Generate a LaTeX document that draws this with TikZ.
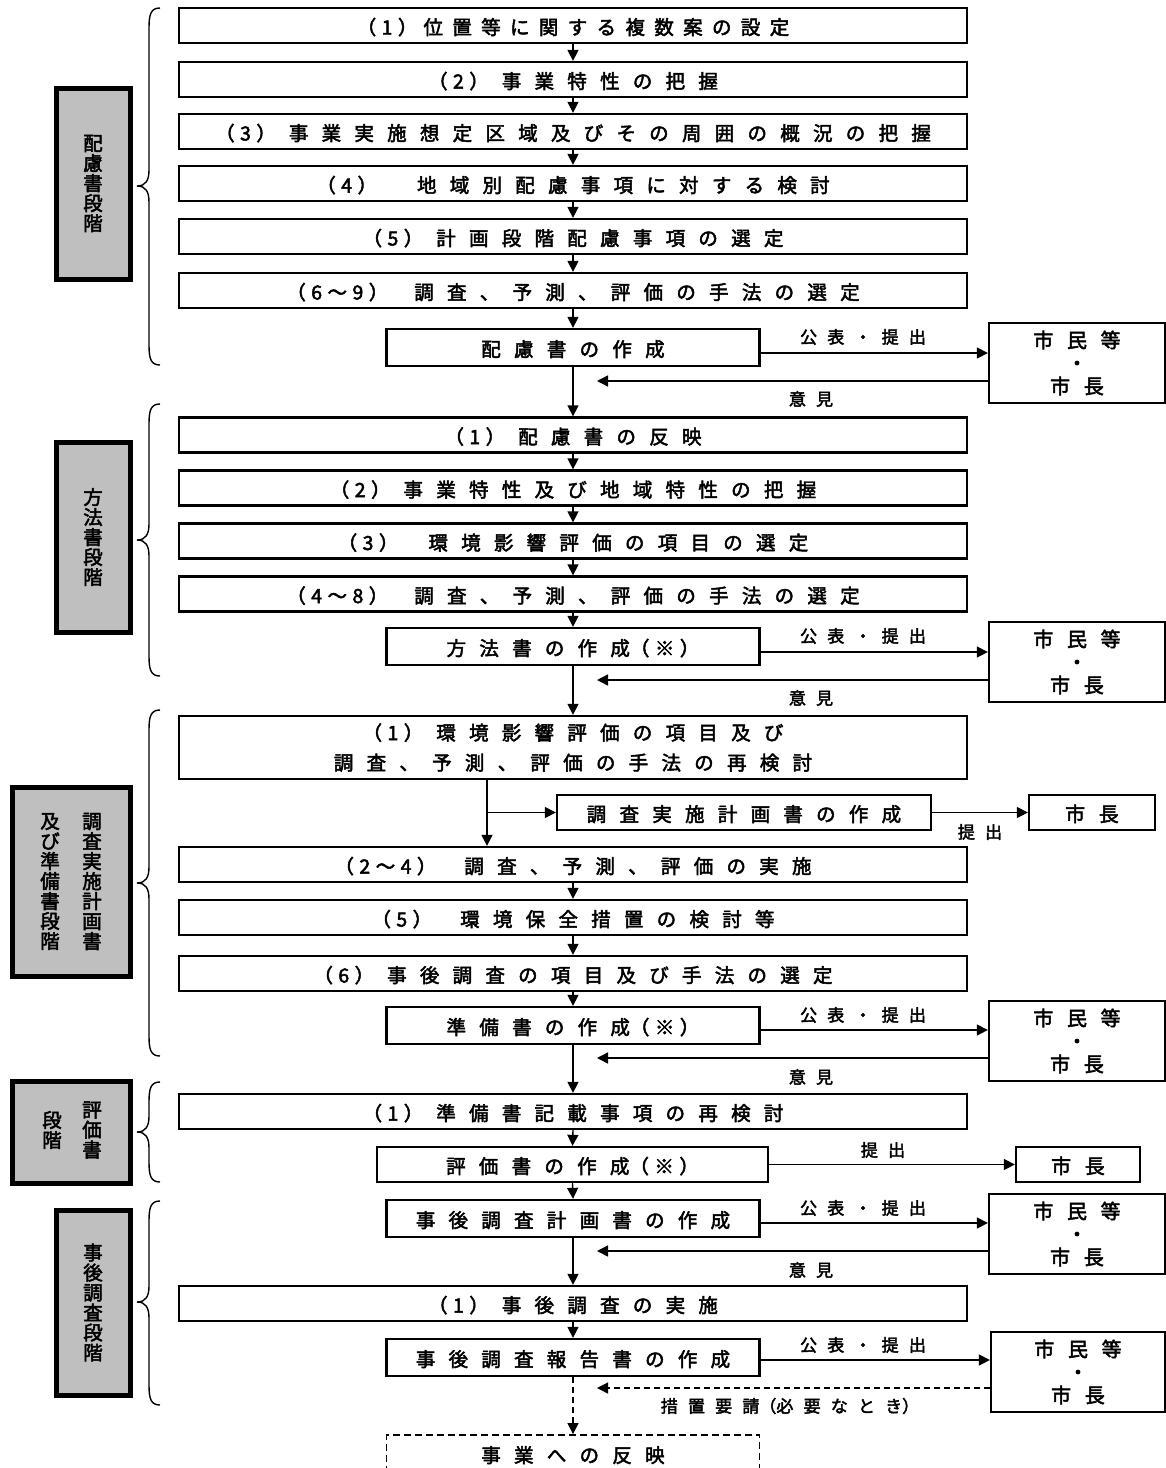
\documentclass[tikz,border=0pt]{standalone}
\usepackage{fontspec}
\setmainfont{Noto Sans CJK JP}
\newfontfamily\jp[FakeBold=2.5]{Noto Sans CJK JP}
\newfontfamily\jpW[LetterSpace=68,FakeBold=2.5]{Noto Sans CJK JP}
\newfontfamily\jpN[LetterSpace=48,FakeBold=2.5]{Noto Sans CJK JP}
\newfontfamily\jpS[LetterSpace=60,FakeBold=2.5]{Noto Sans CJK JP}
\newfontfamily\jpP[LetterSpace=28,FakeBold=2.5]{Noto Sans CJK JP}
\usetikzlibrary{arrows.meta}
\definecolor{stagegray}{RGB}{191,191,191}
\newcommand\fmain{\fontsize{19.5}{30}\selectfont\jpW}
\newcommand\fnarrow{\fontsize{19.5}{30}\selectfont\jpN}
\newcommand\fpre{\fontsize{19.5}{30}\selectfont\jpP}
\newcommand\fcity{\fontsize{20}{23}\selectfont\jpW}
\newcommand\flab{\fontsize{17}{20}\selectfont\jpS}
\newcommand\flabp{\fontsize{17}{20}\selectfont\jpP}
\newcommand\fstage{\fontsize{19.5}{20}\selectfont\jp}
\newcommand\pre[2][13pt]{{\fpre#2}\hspace{#1}}
\newcommand\note{{\fpre（※）}}
\newcommand{\stagebrace}[3]{%
  \draw[bracestyle] (160,#1) .. controls (151,#1) and (149,#1+6) .. (149,#1+20)
    -- (149,#2-16) .. controls (149,#2-6) and (146,#2) .. (137,#2)
    .. controls (146,#2) and (149,#2+6) .. (149,#2+16)
    -- (149,#3-20) .. controls (149,#3-6) and (151,#3) .. (160,#3);}
\begin{document}
\begin{tikzpicture}[x=1pt,y=-1pt,
  boxbase/.style={draw, line width=2.3pt, inner sep=0pt, font=\fmain, align=center},
  oneline/.style={text height=20pt, text depth=2pt},
  mainbox/.style={boxbase, oneline, minimum width=788pt, minimum height=35pt},
  twobox/.style={boxbase, minimum width=788pt, minimum height=63pt},
  docbox/.style={boxbase, oneline, minimum width=373pt, minimum height=37pt},
  citybox/.style={draw, line width=2.3pt, minimum width=176pt, minimum height=80pt, inner sep=0pt, font=\fcity, align=center},
  mayorbox/.style={boxbase, oneline, minimum width=126pt, minimum height=35pt, font=\fcity},
  stagebox/.style={draw, line width=5pt, fill=stagegray, inner sep=0pt},
  stagetext/.style={inner sep=0pt, font=\fstage, align=center},
  lbl/.style={inner sep=0pt, font=\flab},
  arr/.style={line width=1.4pt, -{Triangle[length=11pt,width=11pt]}},
  bracestyle/.style={line width=1.4pt}
]
\useasboundingbox (0,0) rectangle (1166,1468);

% ---------- Section 1 ----------
\node[mainbox, font=\fnarrow] (b1) at (573,25.5) {\pre[6pt]{（1）}位置等に関する複数案の設定};
\node[mainbox] (b2) at (573,79.5) {\pre{（2）}事業特性の把握};
\node[mainbox] (b3) at (573,131.5) {\pre{（3）}事業実施想定区域及びその周囲の概況の把握};
\node[mainbox] (b4) at (573,183.5) {\pre[40pt]{（4）}地域別配慮事項に対する検討};
\node[mainbox] (b5) at (573,236.5) {\pre{（5）}計画段階配慮事項の選定};
\node[mainbox] (b6) at (573,290.5) {\pre[26pt]{（6～9）}調査、予測、評価の手法の選定};
\node[docbox] (d1) at (573,347.5) {配慮書の作成};
\node[citybox] (r1) at (1077,363) {市民等\\・\\市長};
\node[lbl] (l1a) at (863,337) {公表・提出};
\node[lbl] (l1b) at (811,399) {意見};
\coordinate (o1) at (597,381);

% ---------- Section 2 ----------
\node[mainbox] (c1) at (573,435) {\pre{（1）}配慮書の反映};
\node[mainbox] (c2) at (573,488) {\pre{（2）}事業特性及び地域特性の把握};
\node[mainbox] (c3) at (573,541) {\pre[30pt]{（3）}環境影響評価の項目の選定};
\node[mainbox] (c4) at (573,594) {\pre[26pt]{（4～8）}調査、予測、評価の手法の選定};
\node[docbox] (m1) at (573,646.5) {方法書の作成\note};
\node[citybox] (r2) at (1077,662) {市民等\\・\\市長};
\node[lbl] (l2a) at (863,636) {公表・提出};
\node[lbl] (l2b) at (811,698) {意見};
\coordinate (o2) at (597,680);

% ---------- Section 3 ----------
\node[twobox] (e1) at (573,747.5) {\pre{（1）}環境影響評価の項目及び\\調査、予測、評価の手法の再検討};
\coordinate (br) at (487,812.5);
\node[docbox, minimum width=374pt, minimum height=35pt] (k1) at (744,812.5) {調査実施計画書の作成};
\node[mayorbox] (k2) at (1092,812.5) {市長};
\node[lbl] (l3k) at (980,832) {提出};
\node[mainbox] (e2) at (573,864.5) {\pre[28pt]{（2～4）}調査、予測、評価の実施};
\node[mainbox] (e3) at (573,917.5) {\pre[28pt]{（5）}環境保全措置の検討等};
\node[mainbox] (e4) at (573,973.5) {\pre{（6）}事後調査の項目及び手法の選定};
\node[docbox] (p1) at (573,1025.5) {準備書の作成\note};
\node[citybox] (r3) at (1077,1041) {市民等\\・\\市長};
\node[lbl] (l3a) at (863,1015) {公表・提出};
\node[lbl] (l3b) at (811,1077) {意見};
\coordinate (o3) at (597,1058);

% ---------- Section 4 ----------
\node[mainbox] (f1) at (573,1111.5) {\pre{（1）}準備書記載事項の再検討};
\node[docbox, minimum width=391pt, minimum height=35pt] (h1) at (572.5,1164.5) {評価書の作成\note};
\node[mayorbox, minimum width=124pt] (h2) at (1078,1164.5) {市長};
\node[lbl] (l4) at (883,1150) {提出};

% ---------- Section 5 ----------
\node[docbox] (g1) at (573,1218.5) {事後調査計画書の作成};
\node[citybox] (r4) at (1077,1234) {市民等\\・\\市長};
\node[lbl] (l5a) at (863,1208) {公表・提出};
\node[lbl] (l5b) at (811,1270) {意見};
\coordinate (o4) at (597,1251);
\node[mainbox] (g2) at (573,1303.5) {\pre{（1）}事後調査の実施};
\node[docbox] (g3) at (573,1357.5) {事後調査報告書の作成};
\node[citybox, minimum width=174pt] (r5) at (1078,1372) {市民等\\・\\市長};
\node[lbl] (l6a) at (863,1345) {公表・提出};
\node[lbl] (l6b) at (790,1406) {措置要請{\flabp（}必要なとき{\flabp）}};
\coordinate (o5) at (597,1388);
\begin{scope}
\clip (0,0) rectangle (1166,1468);
\node[docbox, dashed, line width=1.9pt, dash pattern=on 7pt off 4pt] (g4) at (573,1453.5) {事業への反映};
\end{scope}

% ---------- vertical flow ----------
\foreach \a/\b in {b1/b2,b2/b3,b3/b4,b4/b5,b5/b6,b6/d1,d1/c1,c1/c2,c2/c3,c3/c4,c4/m1,m1/e1,e2/e3,e3/e4,e4/p1,p1/f1,f1/h1,h1/g1,g1/g2,g2/g3}
  \draw[arr] (\a.south) -- (\b.north);
\draw[arr, dashed, dash pattern=on 6pt off 4pt] (g3.south) -- (g4.north);
\draw[arr] (e1.south -| br) -- (e2.north -| br);
\draw[arr] (br) -- (k1.west);
\draw[arr] (k1.east) -- (k2.west);
\draw[arr] (h1.east) -- (h2.west);

% ---------- publication / opinion ----------
\draw[arr] (d1.east |- 0,353) -- (r1.west |- 0,353);
\draw[arr] (r1.west |- o1) -- (o1);
\draw[arr] (m1.east |- 0,652) -- (r2.west |- 0,652);
\draw[arr] (r2.west |- o2) -- (o2);
\draw[arr] (p1.east |- 0,1030) -- (r3.west |- 0,1030);
\draw[arr] (r3.west |- o3) -- (o3);
\draw[arr] (g1.east |- 0,1223) -- (r4.west |- 0,1223);
\draw[arr] (r4.west |- o4) -- (o4);
\draw[arr] (g3.east |- 0,1360) -- (r5.west |- 0,1360);
\draw[arr, dashed, dash pattern=on 6pt off 4pt] (r5.west |- o5) -- (o5);

% ---------- stage labels ----------
\node[stagebox, minimum width=74pt, minimum height=191pt] (s1) at (93,183.5) {};
\node[stagetext] (s1t) at (s1) {配\\慮\\書\\段\\階};
\node[stagebox, minimum width=74pt, minimum height=190pt] (s2) at (93,537) {};
\node[stagetext] (s2t) at (s2) {方\\法\\書\\段\\階};
\node[stagebox, minimum width=118pt, minimum height=189pt] (s3) at (71,881.5) {};
\node[stagetext] (s3a) at (92,881.5) {調\\査\\実\\施\\計\\画\\書};
\node[stagetext] (s3b) at (50,881.5) {及\\び\\準\\備\\書\\段\\階};
\node[stagebox, minimum width=118pt, minimum height=102pt] (s4) at (71,1132) {};
\node[stagetext] (s4a) at (92,1130) {評\\価\\書};
\node[stagetext] (s4b) at (52,1130) {段\\階};
\node[stagebox, minimum width=74pt, minimum height=185pt] (s5) at (93,1302.5) {};
\node[stagetext] (s5t) at (s5) {事\\後\\調\\査\\段\\階};

% ---------- braces ----------
\stagebrace{8}{186}{365}
\stagebrace{404}{540}{676}
\stagebrace{710}{883}{1056}
\stagebrace{1082}{1132}{1182}
\stagebrace{1201}{1302}{1405}
\end{tikzpicture}
\end{document}
